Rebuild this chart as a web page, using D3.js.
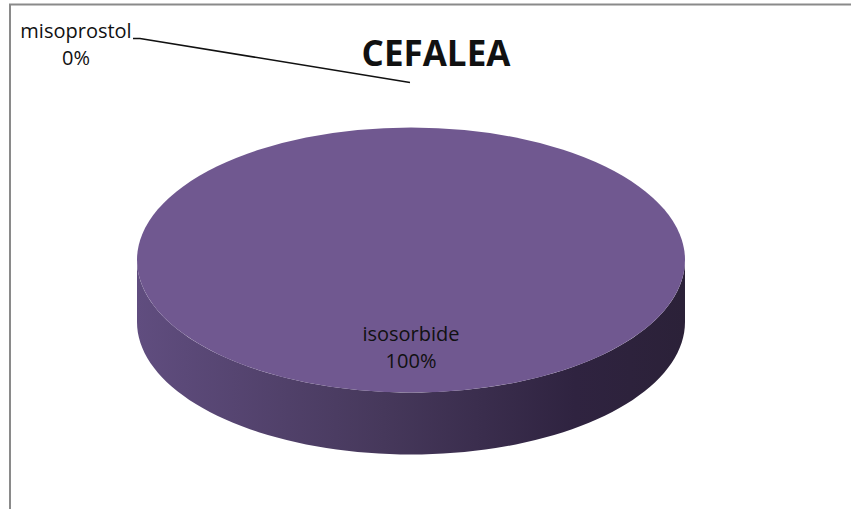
<!DOCTYPE html>
<html>
<head>
<meta charset="utf-8">
<script src="https://cdn.jsdelivr.net/npm/d3@7"></script>
<style>
  body { margin: 0; background: #fff; }
  svg { display: block; }
  text { font-family: "Open Sans", sans-serif; fill: #111; }
</style>
</head>
<body>
<div id="chart"></div>
<script>
// data
var chartTitle = "CEFALEA";
var categories = ["misoprostol", "isosorbide"];
var values = [0, 100];

var w = 851;
var h = 509;

// pie geometry (top face ellipse + wall depth)
var cx = 411, cy = 260;
var rx = 274, ry = 132.5;
var depth = 62;

var topColor = "#705890";

var svg = d3.select("#chart").append("svg")
  .attr("width", w)
  .attr("height", h);

// frame (only top and left edges are visible in the picture)
svg.append("path")
  .attr("d", "M10,509 L10,4.5 L851,4.5")
  .attr("fill", "none")
  .attr("stroke", "#8a8a8a")
  .attr("stroke-width", 2);

// gradient for the wall
var defs = svg.append("defs");
var grad = defs.append("linearGradient")
  .attr("id", "wallGrad")
  .attr("gradientUnits", "userSpaceOnUse")
  .attr("x1", cx - rx).attr("x2", cx + rx)
  .attr("y1", 0).attr("y2", 0);
grad.append("stop").attr("offset", "0%").attr("stop-color", "#604d7f");
grad.append("stop").attr("offset", "45%").attr("stop-color", "#46385b");
grad.append("stop").attr("offset", "80%").attr("stop-color", "#2f2340");
grad.append("stop").attr("offset", "100%").attr("stop-color", "#2b2138");

var pie = d3.pie().sort(null).value(function(d) { return d; });
var slices = pie(values);

// point on ellipse for a d3 pie angle (0 = top, clockwise)
var pt = function(a, dy) {
  return [cx + rx * Math.sin(a), cy - ry * Math.cos(a) + (dy || 0)];
};

// wall: only the part of each slice that faces the viewer (angles pi/2 .. 3pi/2)
var wallPath = function(d) {
  var a0 = Math.max(d.startAngle, Math.PI / 2);
  var a1 = Math.min(d.endAngle, 3 * Math.PI / 2);
  if (a1 <= a0) return null;
  var n = 80, top = [], bot = [];
  for (var i = 0; i <= n; i++) {
    var a = a0 + (a1 - a0) * i / n;
    top.push(pt(a));
    bot.push(pt(a, depth));
  }
  var pts = top.concat(bot.reverse());
  return "M" + pts.map(function(p) { return p[0].toFixed(2) + "," + p[1].toFixed(2); }).join("L") + "Z";
};

svg.selectAll(".wall").data(slices).enter()
  .filter(function(d) { return wallPath(d) !== null; })
  .append("path")
  .attr("class", "wall")
  .attr("d", wallPath)
  .attr("fill", "url(#wallGrad)");

// top faces, drawn with d3.arc and squashed vertically
var arc = d3.arc().innerRadius(0).outerRadius(rx);
svg.append("g")
  .attr("transform", "translate(" + cx + "," + cy + ") scale(1," + (ry / rx) + ")")
  .selectAll("path").data(slices).enter()
  .filter(function(d) { return d.endAngle > d.startAngle; })
  .append("path")
  .attr("d", arc)
  .attr("fill", topColor);

// labels
var pct = function(d) {
  var total = d3.sum(values);
  return Math.round(d.value / total * 100) + "%";
};

var innerLabelArc = d3.arc().innerRadius(rx * 0.66).outerRadius(rx * 0.66);

slices.forEach(function(d, i) {
  if (d.value > 0) {
    var c = innerLabelArc.centroid(d);
    var lx = cx + c[0];
    var ly = cy + c[1] * (ry / rx);
    var t = svg.append("text")
      .attr("text-anchor", "middle")
      .attr("font-size", 20);
    t.append("tspan").attr("x", lx).attr("y", ly - 6).text(categories[i]);
    t.append("tspan").attr("x", lx).attr("y", ly + 21).text(pct(d));
  } else {
    // zero slice: label outside with a leader line
    var mid = (d.startAngle + d.endAngle) / 2;
    var end = [cx + rx * 1.0 * Math.sin(mid) - 1, cy - ry * 1.34 * Math.cos(mid)];
    svg.append("path")
      .attr("d", "M133,38.5 L140,38.5 L" + end[0] + "," + end[1])
      .attr("fill", "none")
      .attr("stroke", "#111")
      .attr("stroke-width", 1.6);
    var t2 = svg.append("text")
      .attr("text-anchor", "middle")
      .attr("font-size", 20);
    t2.append("tspan").attr("x", 76).attr("y", 38).text(categories[i]);
    t2.append("tspan").attr("x", 76).attr("y", 65).text(pct(d));
  }
});

// title
svg.append("text")
  .attr("x", 436)
  .attr("y", 66)
  .attr("text-anchor", "middle")
  .attr("font-size", 35)
  .attr("font-weight", "bold")
  .text(chartTitle);
</script>
</body>
</html>
